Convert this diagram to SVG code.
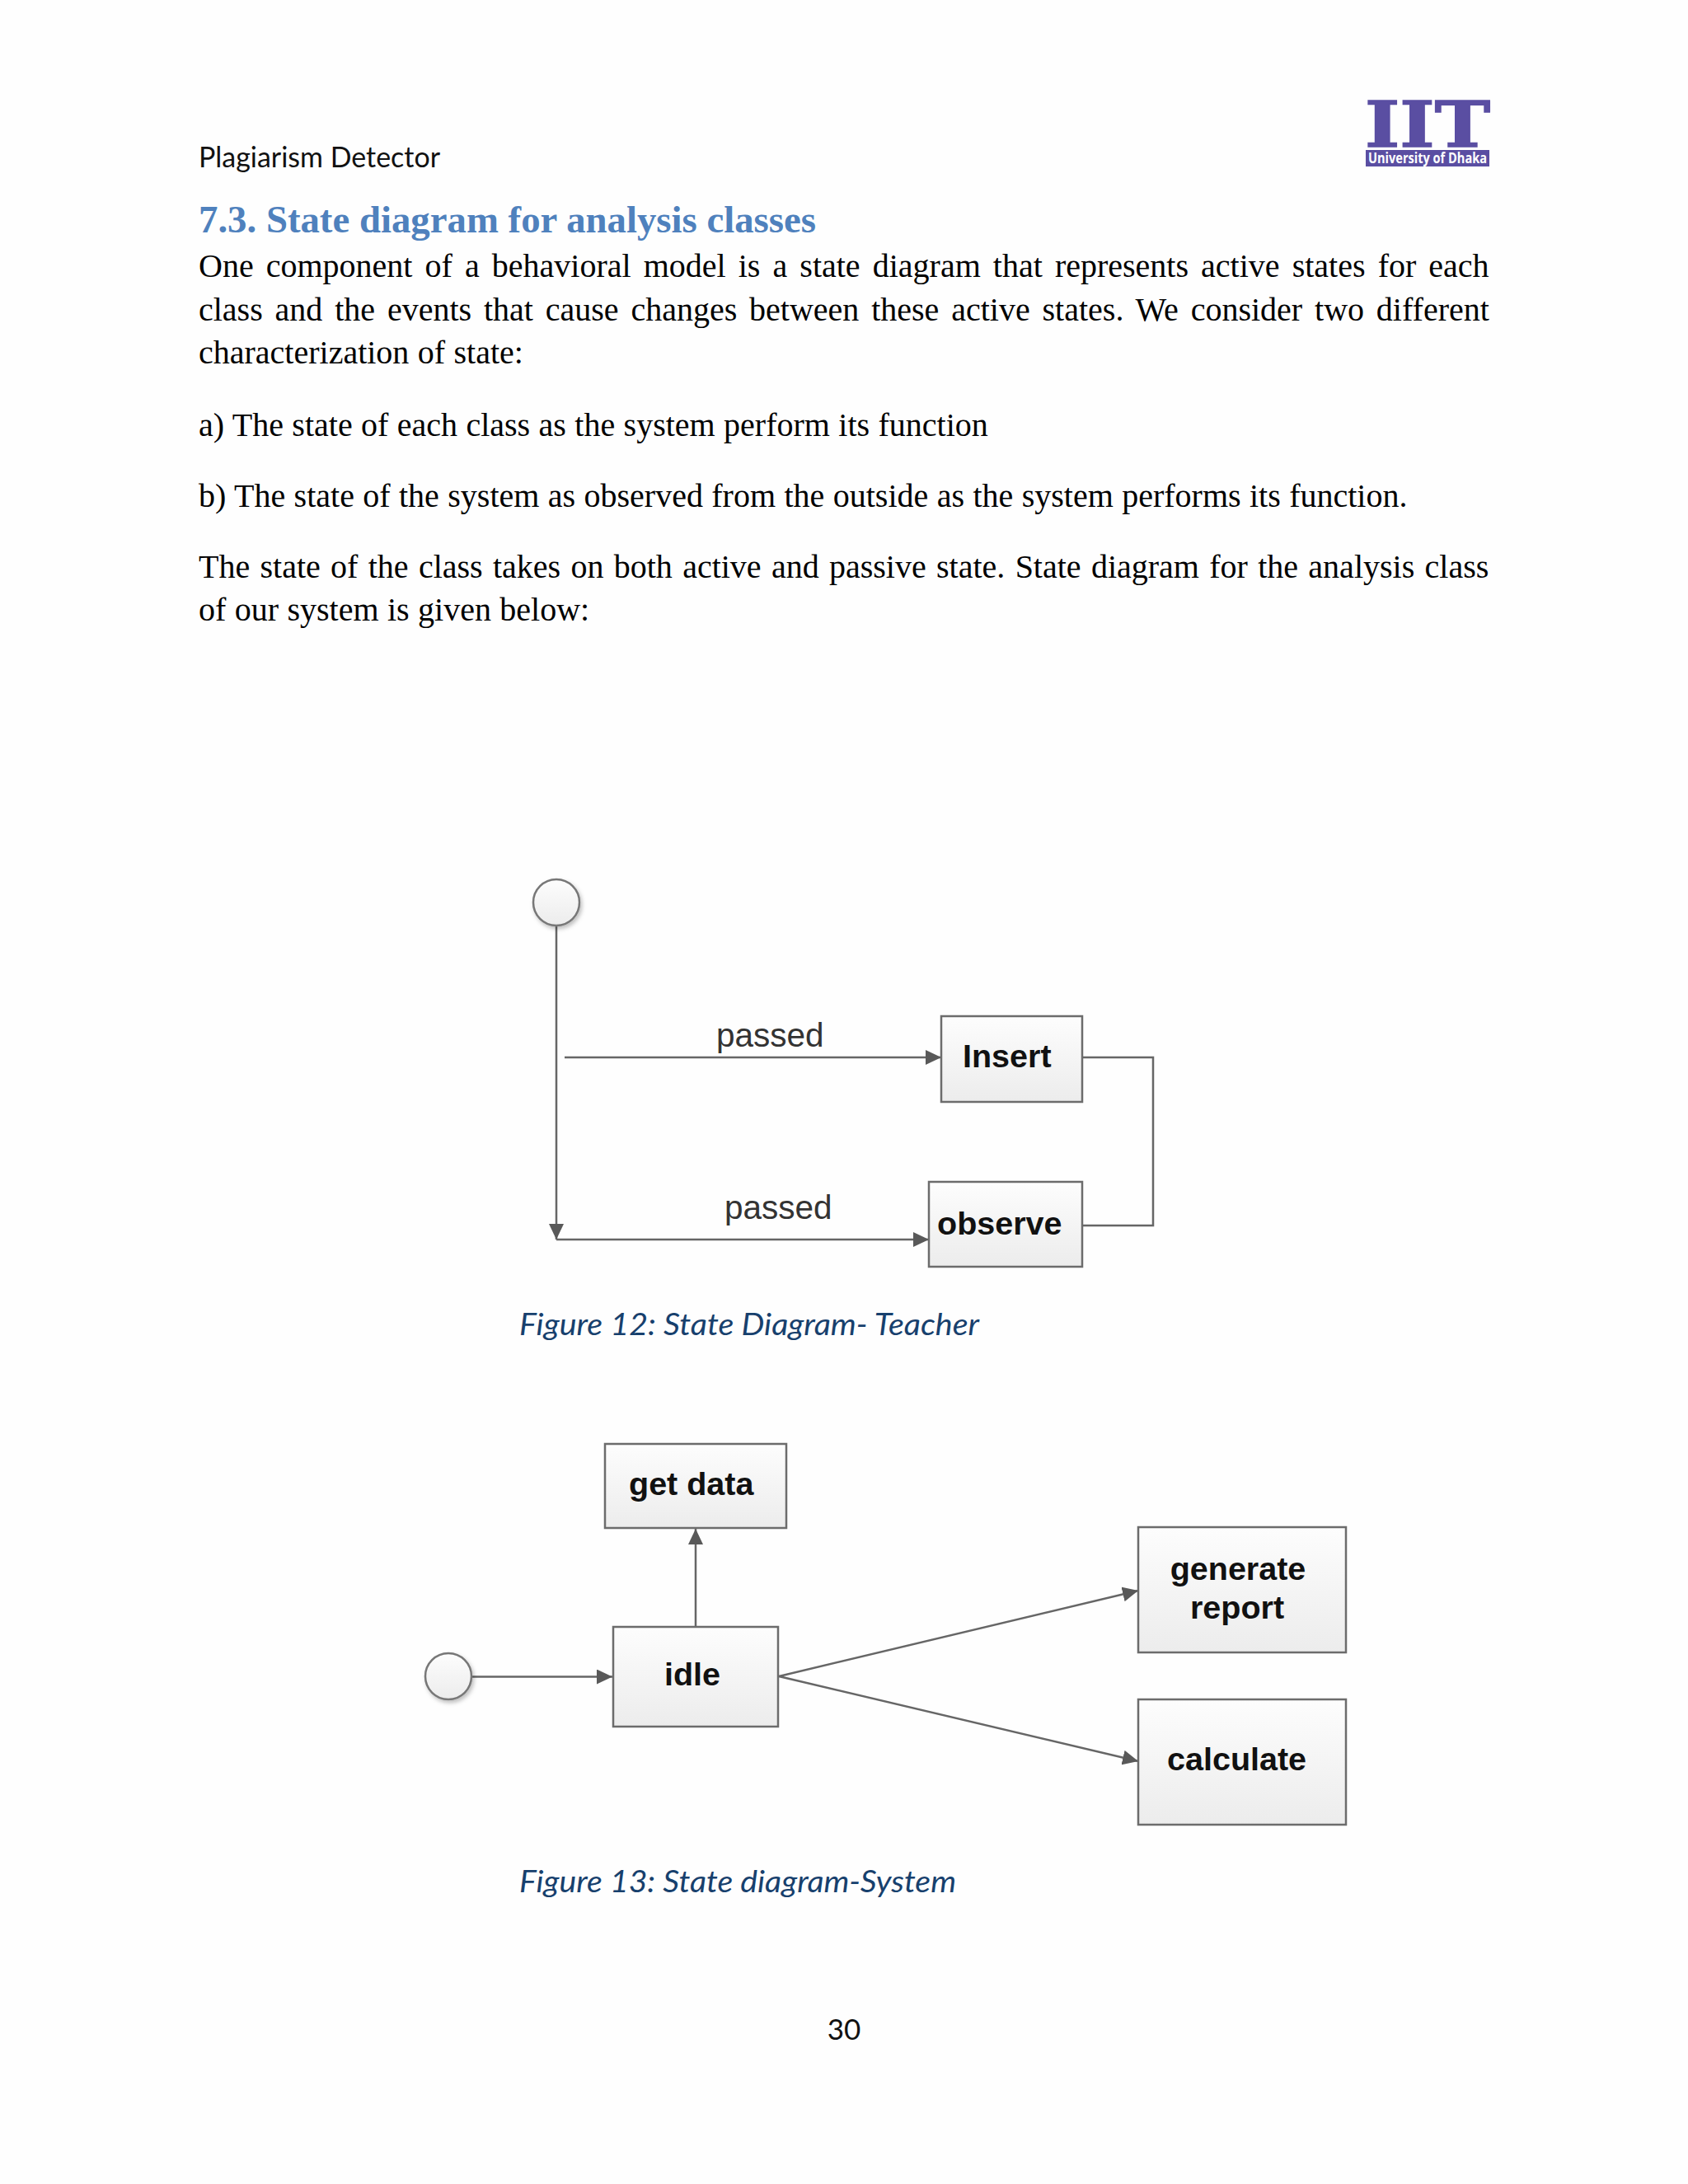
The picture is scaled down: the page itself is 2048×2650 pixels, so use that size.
<svg xmlns="http://www.w3.org/2000/svg" width="2048" height="2650" viewBox="0 0 2048 2650">
<style>
.body{font-family:"Liberation Serif","Times New Roman",serif;font-size:40px;fill:#000}
.cal{font-family:Lato,"Open Sans",sans-serif;font-size:35px;fill:#111}
.cap{font-family:Lato,"Open Sans",sans-serif;font-style:italic;font-size:36px;fill:#17406d}
.head{font-family:"Liberation Serif",serif;font-weight:700;font-size:46px;fill:#4f81bd}
.box{fill:url(#bg);stroke:#6c6c6c;stroke-width:2.5}
.start{fill:url(#bg);stroke:#777;stroke-width:2.5;filter:url(#sh)}
.nl{font-family:"Liberation Sans",Arial,sans-serif;font-weight:700;font-size:39.5px;fill:#111}
.el{font-family:"Liberation Sans",Arial,sans-serif;font-size:40.5px;fill:#333}
.ln{fill:none;stroke:#666;stroke-width:2.5}
.ar{marker-end:url(#arrow)}
</style>
<defs>
<linearGradient id="bg" x1="0" y1="0" x2="0" y2="1"><stop offset="0" stop-color="#fdfdfd"/><stop offset="1" stop-color="#ececec"/></linearGradient>
<filter id="sh" x="-30%" y="-30%" width="170%" height="170%"><feDropShadow dx="2" dy="3" stdDeviation="2.5" flood-color="#000" flood-opacity="0.25"/></filter>
<marker id="arrow" markerUnits="userSpaceOnUse" markerWidth="20" markerHeight="18" refX="19" refY="9" orient="auto"><path d="M0 0L19 9L0 18z" fill="#595959"/></marker>
</defs>
<rect width="2048" height="2650" fill="#fefefe"/>
<g id="page-text">
<text class="cal" x="241" y="203" textLength="293" lengthAdjust="spacingAndGlyphs">Plagiarism Detector</text>
<text class="head" x="241" y="282" textLength="749" lengthAdjust="spacingAndGlyphs">7.3. State diagram for analysis classes</text>
<text class="body" x="241" y="336" style="word-spacing:5.08px">One component of a behavioral model is a state diagram that represents active states for each</text>
<text class="body" x="241" y="389" style="word-spacing:4.84px">class and the events that cause changes between these active states. We consider two different</text>
<text class="body" x="241" y="441" style="word-spacing:0.4px">characterization of state:</text>
<text class="body" x="241" y="529" style="word-spacing:0.4px">a) The state of each class as the system perform its function</text>
<text class="body" x="241" y="615" style="word-spacing:0.4px">b) The state of the system as observed from the outside as the system performs its function.</text>
<text class="body" x="241" y="701" style="word-spacing:2.3px">The state of the class takes on both active and passive state. State diagram for the analysis class</text>
<text class="body" x="241" y="753" style="word-spacing:0.4px">of our system is given below:</text>
<text class="cap" x="630" y="1620" textLength="558" lengthAdjust="spacingAndGlyphs">Figure 12: State Diagram- Teacher</text>
<text class="cap" x="630" y="2296" textLength="530" lengthAdjust="spacingAndGlyphs">Figure 13: State diagram-System</text>
<text class="cal" x="1024" y="2475" text-anchor="middle">30</text>
</g>
<g id="logo">
<text x="1656" y="178" textLength="152" lengthAdjust="spacingAndGlyphs" style="font-family:'DejaVu Serif',serif;font-weight:700;font-size:76px;fill:#5a4ea2;stroke:#5a4ea2;stroke-width:1.5">IIT</text>
<rect x="1657" y="182" width="150" height="20" fill="#5a4ea2"/>
<text x="1660" y="198" textLength="144" lengthAdjust="spacingAndGlyphs" style="font-family:'Open Sans',sans-serif;font-weight:700;font-size:17px;fill:#fff">University of Dhaka</text>
</g>
<g id="connectors">
<path class="ln ar" d="M675 1123V1504"/>
<path class="ln ar" d="M685 1283H1142"/>
<path class="ln ar" d="M675 1504H1127"/>
<path class="ln" d="M1313 1283H1399V1487H1313"/>
<path class="ln ar" d="M844 1973V1855"/>
<path class="ln ar" d="M572 2034.500H743"/>
<path class="ln ar" d="M945 2034L1381 1930"/>
<path class="ln ar" d="M945 2034L1381 2137"/>
</g>
<g id="start-1"><circle class="start" cx="675" cy="1095" r="28"/></g>
<g id="insert"><rect class="box" x="1142" y="1233" width="171" height="104"/><text class="nl" x="1168" y="1295">Insert</text></g>
<g id="observe"><rect class="box" x="1127" y="1434" width="186" height="103"/><text class="nl" x="1137" y="1498">observe</text></g>
<g id="edge-labels">
<text class="el" x="869" y="1270">passed</text>
<text class="el" x="879" y="1479">passed</text>
</g>
<g id="start-2"><circle class="start" cx="544" cy="2034" r="28"/></g>
<g id="get-data"><rect class="box" x="734" y="1752" width="220" height="102"/><text class="nl" x="763" y="1814">get data</text></g>
<g id="idle"><rect class="box" x="744" y="1974" width="200" height="121"/><text class="nl" x="806" y="2045">idle</text></g>
<g id="generate-report"><rect class="box" x="1381" y="1853" width="252" height="152"/><text class="nl" x="1502" y="1917" text-anchor="middle">generate</text><text class="nl" x="1501" y="1964" text-anchor="middle">report</text></g>
<g id="calculate"><rect class="box" x="1381" y="2062" width="252" height="152"/><text class="nl" x="1416" y="2148">calculate</text></g>
</svg>
